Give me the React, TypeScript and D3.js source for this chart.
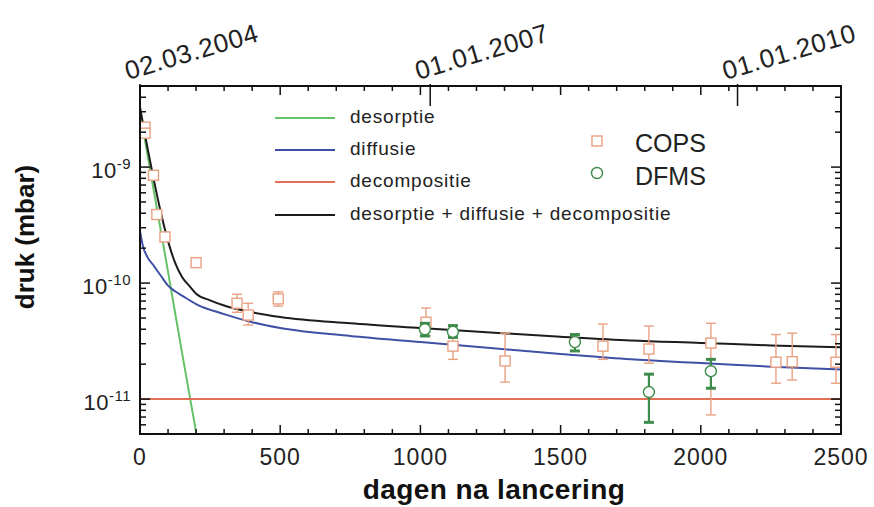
import React from "react";
import * as d3 from "d3";

// curves (day, pressure in mbar)
const desorptieDays = [0, 50, 100, 150, 200, 210];
const desorptieVals = [3.0e-9, 6.1e-10, 1.25e-10, 2.5e-11, 5.2e-12, 3.8e-12];

const diffusieDays = [0, 10, 25, 50, 75, 100, 125, 150, 200, 300, 400, 500, 750, 1000, 1250, 1500, 1750, 2000, 2250, 2500];
const diffusieVals = [2.8e-10, 2.1e-10, 1.7e-10, 1.4e-10, 1.15e-10, 9.5e-11, 8.5e-11, 7.8e-11, 6.6e-11, 5.4e-11, 4.6e-11, 4.1e-11, 3.5e-11, 3.1e-11, 2.75e-11, 2.45e-11, 2.2e-11, 2.05e-11, 1.9e-11, 1.8e-11];

const decompDays = [0, 2500];
const decompVals = [1e-11, 1e-11];

const totaalDays = [0, 25, 50, 75, 100, 125, 150, 175, 200, 250, 300, 400, 500, 750, 1000, 1250, 1500, 1750, 2000, 2250, 2500];
const totaalVals = [3.29e-9, 1.54e-9, 7.6e-10, 4.0e-10, 2.3e-10, 1.5e-10, 1.13e-10, 9.5e-11, 8.1e-11, 7.1e-11, 6.4e-11, 5.6e-11, 5.1e-11, 4.5e-11, 4.1e-11, 3.75e-11, 3.45e-11, 3.2e-11, 3.05e-11, 2.9e-11, 2.8e-11];

// COPS metingen (null = geen foutbalk)
const copsDays = [18, 18, 48, 60, 89, 200, 346, 386, 493, 1020, 1116, 1302, 1651, 1815, 2036, 2268, 2326, 2482];
const copsVals = [2.21e-9, 1.96e-9, 8.5e-10, 3.9e-10, 2.5e-10, 1.5e-10, 6.7e-11, 5.3e-11, 7.3e-11, 4.6e-11, 2.86e-11, 2.13e-11, 2.86e-11, 2.7e-11, 3.04e-11, 2.08e-11, 2.1e-11, 2.08e-11];
const copsHi = [null, null, null, null, null, null, 8.0e-11, 6.7e-11, 8.4e-11, 6.1e-11, 3.8e-11, 3.7e-11, 4.44e-11, 4.26e-11, 4.5e-11, 3.6e-11, 3.7e-11, 3.6e-11];
const copsLo = [null, null, null, null, null, null, 5.6e-11, 4.35e-11, 6.34e-11, 3.5e-11, 2.2e-11, 1.4e-11, 2.2e-11, 2.04e-11, 7.3e-12, 1.37e-11, 1.46e-11, 1.37e-11];

// DFMS metingen
const dfmsDays = [1016, 1116, 1551, 1815, 2036];
const dfmsVals = [4.0e-11, 3.8e-11, 3.1e-11, 1.15e-11, 1.74e-11];
const dfmsHi = [4.5e-11, 4.3e-11, 3.6e-11, 1.64e-11, 2.2e-11];
const dfmsLo = [3.5e-11, 3.4e-11, 2.6e-11, 6.3e-12, 1.24e-11];

const dateLabels = ["02.03.2004", "01.01.2007", "01.01.2010"];
const dateDays = [0, 1035, 2131];

const legendLabels = ["desorptie", "diffusie", "decompositie", "desorptie + diffusie + decompositie"];

const W = 874;
const H = 507;
const left = 140, right = 841, top = 86, bottom = 434;
const font = "'Liberation Sans', Arial, sans-serif";

const colors = {
  desorptie: "#66c266",
  diffusie: "#3f51a6",
  decomp: "#e06f55",
  totaal: "#1c1c1c",
  cops: "#e9a183",
  dfms: "#3d8b4a",
};

export default function App() {
  const x = d3.scaleLinear().domain([0, 2500]).range([left, right]);
  const y = d3.scaleLog().domain([5e-12, 5e-9]).range([bottom, top]);

  const line = d3
    .line<[number, number]>()
    .x((d) => x(d[0]))
    .y((d) => y(d[1]))
    .curve(d3.curveMonotoneX);

  const zip = (a: number[], b: number[]) => a.map((v, i) => [v, b[i]] as [number, number]);

  const curves = [
    { pts: zip(desorptieDays, desorptieVals), c: colors.desorptie },
    { pts: zip(diffusieDays, diffusieVals), c: colors.diffusie },
    { pts: zip(decompDays, decompVals), c: colors.decomp },
    { pts: zip(totaalDays, totaalVals), c: colors.totaal },
  ];

  const xMinor = x.ticks(25);
  const xMajor = x.ticks(5);
  const yTicks = y.ticks();
  const isDecade = (v: number) => Math.abs(Math.log10(v) - Math.round(Math.log10(v))) < 1e-6;
  const yMajor = yTicks.filter(isDecade);

  const legendY = [118, 150, 182, 215];
  const legendColors = [colors.desorptie, colors.diffusie, colors.decomp, colors.totaal];

  return (
    <svg width={W} height={H} style={{ position: "absolute", left: 0, top: 0, background: "#fff" }} fontFamily={font}>
      <defs>
        <clipPath id="plot">
          <rect x={left} y={top} width={right - left} height={bottom - top} />
        </clipPath>
      </defs>

      {/* curves */}
      <g clipPath="url(#plot)" fill="none" strokeWidth={2}>
        {curves.map((c, i) => (
          <path key={i} d={line(c.pts) || ""} stroke={c.c} />
        ))}
      </g>

      {/* COPS */}
      <g stroke={colors.cops} strokeWidth={1.4}>
        {copsDays.map((d, i) => {
          const cx = x(d);
          const cy = y(copsVals[i]);
          const hi = copsHi[i];
          const lo = copsLo[i];
          return (
            <g key={i}>
              {hi != null && lo != null && (
                <g>
                  <line x1={cx} x2={cx} y1={y(hi)} y2={y(lo)} />
                  <line x1={cx - 5} x2={cx + 5} y1={y(hi)} y2={y(hi)} />
                  <line x1={cx - 5} x2={cx + 5} y1={y(lo)} y2={y(lo)} />
                </g>
              )}
              <rect x={cx - 5} y={cy - 5} width={10} height={10} fill="#fff" />
            </g>
          );
        })}
      </g>

      {/* DFMS */}
      <g stroke={colors.dfms}>
        {dfmsDays.map((d, i) => {
          const cx = x(d);
          const cy = y(dfmsVals[i]);
          return (
            <g key={i}>
              <line x1={cx} x2={cx} y1={y(dfmsHi[i])} y2={y(dfmsLo[i])} strokeWidth={2.2} />
              <line x1={cx - 5} x2={cx + 5} y1={y(dfmsHi[i])} y2={y(dfmsHi[i])} strokeWidth={3} />
              <line x1={cx - 5} x2={cx + 5} y1={y(dfmsLo[i])} y2={y(dfmsLo[i])} strokeWidth={3} />
              <circle cx={cx} cy={cy} r={5.5} fill="#fff" strokeWidth={1.4} />
            </g>
          );
        })}
      </g>

      {/* frame + ticks */}
      <g stroke="#111" fill="none">
        <rect x={left} y={top} width={right - left} height={bottom - top} strokeWidth={2} />
        {xMinor.map((v) => {
          const len = xMajor.includes(v) ? 9 : 5;
          return (
            <g key={"x" + v} strokeWidth={1.5}>
              <line x1={x(v)} x2={x(v)} y1={bottom} y2={bottom - len} />
              <line x1={x(v)} x2={x(v)} y1={top} y2={top + len} />
            </g>
          );
        })}
        {dateDays.map((d) => (
          <line key={"d" + d} x1={x(d)} x2={x(d)} y1={top - 2} y2={top + 20} strokeWidth={1.5} />
        ))}
        {yTicks.map((v) => {
          const len = isDecade(v) ? 10 : 6;
          return (
            <g key={"y" + v} strokeWidth={1.5}>
              <line x1={left} x2={left + len} y1={y(v)} y2={y(v)} />
              <line x1={right} x2={right - len} y1={y(v)} y2={y(v)} />
            </g>
          );
        })}
      </g>

      {/* tick labels */}
      <g fontSize={23} fill="#222" letterSpacing={1}>
        {xMajor.map((v) => (
          <text key={"xl" + v} x={x(v)} y={465} textAnchor="middle">
            {v}
          </text>
        ))}
      </g>
      <g fill="#222">
        {yMajor.map((v) => (
          <text key={"yl" + v} x={131} y={y(v) + 11} textAnchor="end" fontSize={22} letterSpacing={0.5}>
            <tspan>10</tspan>
            <tspan dy={-9} fontSize={15}>
              {"-" + Math.round(-Math.log10(v))}
            </tspan>
          </text>
        ))}
      </g>

      {/* date labels */}
      <g fontSize={26} fill="#222" letterSpacing={0.8}>
        {dateDays.map((d, i) => (
          <text key={"dl" + i} transform={`translate(${x(d) - 12},80) rotate(-16.5)`}>
            {dateLabels[i]}
          </text>
        ))}
      </g>

      {/* axis titles */}
      <text x={494} y={499} textAnchor="middle" fontSize={28} fontWeight="bold" letterSpacing={0.4} fill="#111">
        dagen na lancering
      </text>
      <text transform="translate(34,237) rotate(-90)" textAnchor="middle" fontSize={26} fontWeight="bold" fill="#111">
        druk (mbar)
      </text>

      {/* legend */}
      <g>
        {legendLabels.map((l, i) => (
          <g key={l}>
            <line x1={275} x2={335} y1={legendY[i]} y2={legendY[i]} stroke={legendColors[i]} strokeWidth={2} />
            <text x={350} y={legendY[i] + 5} fontSize={19} letterSpacing={0.8} fill="#222">
              {l}
            </text>
          </g>
        ))}
        <rect x={592} y={136} width={10} height={10} fill="#fff" stroke={colors.cops} strokeWidth={1.4} />
        <text x={635} y={152} fontSize={25} fill="#222">
          COPS
        </text>
        <circle cx={597} cy={173} r={5.5} fill="#fff" stroke={colors.dfms} strokeWidth={1.4} />
        <text x={635} y={185} fontSize={25} fill="#222">
          DFMS
        </text>
      </g>
    </svg>
  );
}
